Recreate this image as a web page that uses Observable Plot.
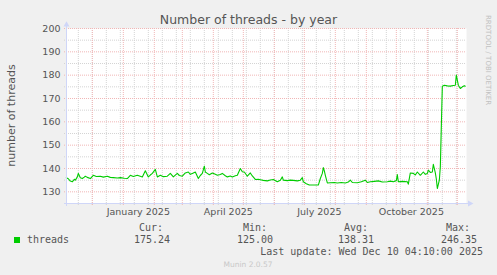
<!DOCTYPE html>
<html><head><meta charset="utf-8">
<script src="https://cdn.jsdelivr.net/npm/d3@7"></script>
<script src="https://cdn.jsdelivr.net/npm/@observablehq/plot@0.6"></script>
<style>
html,body{margin:0;padding:0;background:#f0f0f0;}
#chart{width:497px;height:275px;position:relative;overflow:hidden;background:#f0f0f0}
svg{display:block}
</style></head><body><div id="chart"></div>
<script>
// ---- data ----
const dates = [
"2024-11-05","2024-11-07","2024-11-09","2024-11-11","2024-11-13","2024-11-14","2024-11-16","2024-11-17","2024-11-19","2024-11-21",
"2024-11-23","2024-11-24","2024-11-26","2024-11-29","2024-12-02","2024-12-05","2024-12-09","2024-12-12","2024-12-16","2024-12-19",
"2024-12-22","2024-12-26","2024-12-29","2025-01-02","2025-01-05","2025-01-08","2025-01-11","2025-01-15","2025-01-20","2025-01-23",
"2025-01-26","2025-01-28","2025-01-30","2025-02-02","2025-02-04","2025-02-07","2025-02-10","2025-02-14","2025-02-17","2025-02-20",
"2025-02-24","2025-02-26","2025-03-01","2025-03-04","2025-03-07","2025-03-09","2025-03-11","2025-03-14","2025-03-17","2025-03-19",
"2025-03-21","2025-03-23","2025-03-24","2025-03-26","2025-03-28","2025-03-31","2025-04-03","2025-04-05","2025-04-08","2025-04-10",
"2025-04-13","2025-04-15","2025-04-18","2025-04-20","2025-04-23","2025-04-25","2025-04-28","2025-04-30","2025-05-02","2025-05-05",
"2025-05-08","2025-05-10","2025-05-13","2025-05-16","2025-05-18","2025-05-21","2025-05-25","2025-05-28","2025-05-31","2025-06-04",
"2025-06-07","2025-06-09","2025-06-10","2025-06-14","2025-06-17","2025-06-20","2025-06-24","2025-06-27","2025-06-29","2025-06-30",
"2025-07-03","2025-07-06","2025-07-10","2025-07-15","2025-07-17","2025-07-19","2025-07-20","2025-07-21","2025-07-22","2025-07-24",
"2025-07-27","2025-07-31","2025-08-03","2025-08-07","2025-08-11","2025-08-14","2025-08-16","2025-08-18","2025-08-23","2025-08-27",
"2025-08-31","2025-09-02","2025-09-05","2025-09-09","2025-09-13","2025-09-17","2025-09-22","2025-09-25","2025-09-28","2025-10-01",
"2025-10-02","2025-10-03","2025-10-07","2025-10-12","2025-10-13","2025-10-15","2025-10-18","2025-10-20","2025-10-22","2025-10-25",
"2025-10-28","2025-10-30","2025-11-01","2025-11-02","2025-11-04","2025-11-06","2025-11-07","2025-11-09","2025-11-10","2025-11-11",
"2025-11-13","2025-11-14","2025-11-16","2025-11-18","2025-11-21","2025-11-24","2025-11-27","2025-11-29","2025-11-30","2025-12-02",
"2025-12-04","2025-12-06","2025-12-08","2025-12-09"
];
const threads = [
136.0,135.6,134.6,134.3,135.4,135.0,136.4,137.9,136.0,135.7,
136.3,136.7,136.2,135.7,137.1,136.6,136.7,136.3,136.7,136.2,
136.1,135.9,136.1,135.8,135.7,137.1,136.6,137.1,136.4,139.0,
136.4,137.2,137.9,139.6,136.4,137.1,136.5,136.7,137.9,136.4,
137.9,137.0,136.7,138.1,138.5,137.5,137.9,138.5,135.7,137.0,
137.9,141.0,138.5,137.9,137.3,138.1,137.5,137.1,137.4,137.9,
136.9,136.4,136.8,136.4,136.9,137.1,140.0,138.6,138.5,136.7,
138.1,136.8,135.3,135.4,135.2,134.9,134.7,135.1,135.3,134.3,
135.0,136.4,135.0,134.8,135.0,134.9,134.7,135.0,136.1,134.3,
133.5,132.9,132.9,132.9,135.7,137.9,140.4,139.0,137.1,133.8,
133.9,134.0,133.8,134.0,133.8,134.2,135.0,134.0,133.9,134.3,
135.0,134.0,134.3,134.5,134.7,134.2,134.3,134.6,134.3,134.8,
137.4,134.3,134.5,134.3,133.3,138.1,137.9,137.2,138.5,137.1,
138.5,137.5,137.9,139.3,138.3,138.5,141.8,138.1,135.5,131.4,
135.0,140.7,175.3,175.7,175.4,175.3,175.6,175.7,180.0,175.7,
174.3,175.0,175.5,175.3
];
const yTicks = [130,140,150,160,170,180,190,200];
const yMinorTicks = [135,145,155,165,175,185,195];
const xLabelDates = ["2025-01-16","2025-04-16","2025-07-16","2025-10-16"];
const xLabels = ["January 2025","April 2025","July 2025","October 2025"];
const title = "Number of threads - by year";
const yLabel = "number of threads";
const seriesName = "threads";
const statHeads = ["Cur:","Min:","Avg:","Max:"];
const statValues = ["175.24","125.00","138.31","246.35"];
const lastUpdate = "Last update: Wed Dec 10 04:10:00 2025";
const footer = "Munin 2.0.57";
const watermark = "RRDTOOL / TOBI OETIKER";

// ---- build ----
const parse = d3.timeParse("%Y-%m-%d");
const data = dates.map((d,i)=>({date: parse(d), value: threads[i]}));
const start = new Date(2024,10,5,4,10), end = new Date(2025,11,10,4,10);
const monthStarts = d3.timeMonth.range(start, end);
const minorX = d3.timeSunday.range(new Date(2024,10,17), end, 2);
const labelDates = xLabelDates.map(parse);

const green = "#00cc00", txt = "#555555";
const axisColor = "#cfd6f8", gridGray = "#d4d4d4", gridRed = "#f1b6b6";

const chart = Plot.plot({
  width: 497, height: 275,
  marginLeft: 66, marginRight: 31, marginTop: 28, marginBottom: 72,
  style: {background: "transparent", fontFamily: "DejaVu Sans", fontSize: "9.5px", color: txt},
  x: {type: "time", domain: [start, end]},
  y: {domain: [125, 200]},
  marks: [
    Plot.frame({fill: "#ffffff", stroke: "none"}),
    Plot.gridX(minorX, {stroke: gridGray, strokeOpacity: 1, strokeDasharray: "1,1", insetBottom: -2}),
    Plot.gridY(yMinorTicks, {stroke: gridGray, strokeOpacity: 1, strokeDasharray: "1,1", insetLeft: -2}),
    Plot.gridX(monthStarts, {stroke: gridRed, strokeOpacity: 1, strokeDasharray: "1,1", insetBottom: -2}),
    Plot.gridY(yTicks, {stroke: gridRed, strokeOpacity: 1, strokeDasharray: "1,1", insetLeft: -2}),
    Plot.axisY(yTicks, {tickSize: 0, tickPadding: 6, label: null, fill: txt}),
    Plot.axisX(labelDates, {tickSize: 0, tickPadding: 5, label: null, fill: txt,
      tickFormat: (d) => xLabels[labelDates.findIndex(t => +t === +d)]}),
    Plot.line(data, {x: "date", y: "value", stroke: green, strokeWidth: 1.1})
  ]
});
document.getElementById("chart").appendChild(chart);

const svg = d3.select(chart);
const [x0, x1] = chart.scale("x").range;
const [y0, y1] = chart.scale("y").range; // y0 bottom, y1 top
const g = svg.append("g").attr("text-anchor", "start");
// axes with arrows
g.append("line").attr("x1", x0-2).attr("x2", x1+5).attr("y1", y0+0.5).attr("y2", y0+0.5)
  .attr("stroke", axisColor).attr("stroke-width", 1);
g.append("path").attr("d", `M${x1+2},${y0-2.5}L${x1+7.5},${y0+0.5}L${x1+2},${y0+3.5}Z`).attr("fill", axisColor);
g.append("line").attr("x1", x0+0.5).attr("x2", x0+0.5).attr("y1", y0+3).attr("y2", y1-4)
  .attr("stroke", axisColor).attr("stroke-width", 1);
g.append("path").attr("d", `M${x0-2.5},${y1-1.5}L${x0+0.5},${y1-6.8}L${x0+3.5},${y1-1.5}Z`).attr("fill", axisColor);

const sans = "DejaVu Sans", mono = "DejaVu Sans Mono";
// title
g.append("text").text(title).attr("x", 248.5).attr("y", 23.5).attr("text-anchor", "middle")
  .attr("font-family", sans).attr("font-size", 12.5).attr("fill", txt);
// y label
g.append("text").text(yLabel).attr("transform", "translate(15.3,115.5) rotate(-90)").attr("text-anchor", "middle")
  .attr("font-family", sans).attr("font-size", 11).attr("fill", txt);
// watermark
g.append("text").text(watermark).attr("transform", "translate(485.5,15) rotate(90)").attr("text-anchor", "start")
  .attr("font-family", sans).attr("font-size", 7).attr("fill", "#c0c0c0");
// legend
g.append("rect").attr("x", 14).attr("y", 237).attr("width", 6).attr("height", 6).attr("fill", green);
g.append("text").text(seriesName).attr("x", 27).attr("y", 243).attr("text-anchor", "start")
  .attr("font-family", mono).attr("font-size", 10).attr("fill", txt);
const headEnds = [163, 267, 368, 470], valEnds = [170, 273, 374, 477];
statHeads.forEach((h,i) => g.append("text").text(h).attr("x", headEnds[i]).attr("y", 231).attr("text-anchor", "end")
  .attr("font-family", mono).attr("font-size", 10).attr("fill", txt));
statValues.forEach((v,i) => g.append("text").text(v).attr("x", valEnds[i]).attr("y", 243).attr("text-anchor", "end")
  .attr("font-family", mono).attr("font-size", 10).attr("fill", txt));
g.append("text").text(lastUpdate).attr("x", 483).attr("y", 255).attr("text-anchor", "end")
  .attr("font-family", mono).attr("font-size", 10).attr("fill", txt);
g.append("text").text(footer).attr("x", 248).attr("y", 266.8).attr("text-anchor", "middle")
  .attr("font-family", sans).attr("font-size", 7.5).attr("fill", "#c8c8c8");
</script></body></html>
